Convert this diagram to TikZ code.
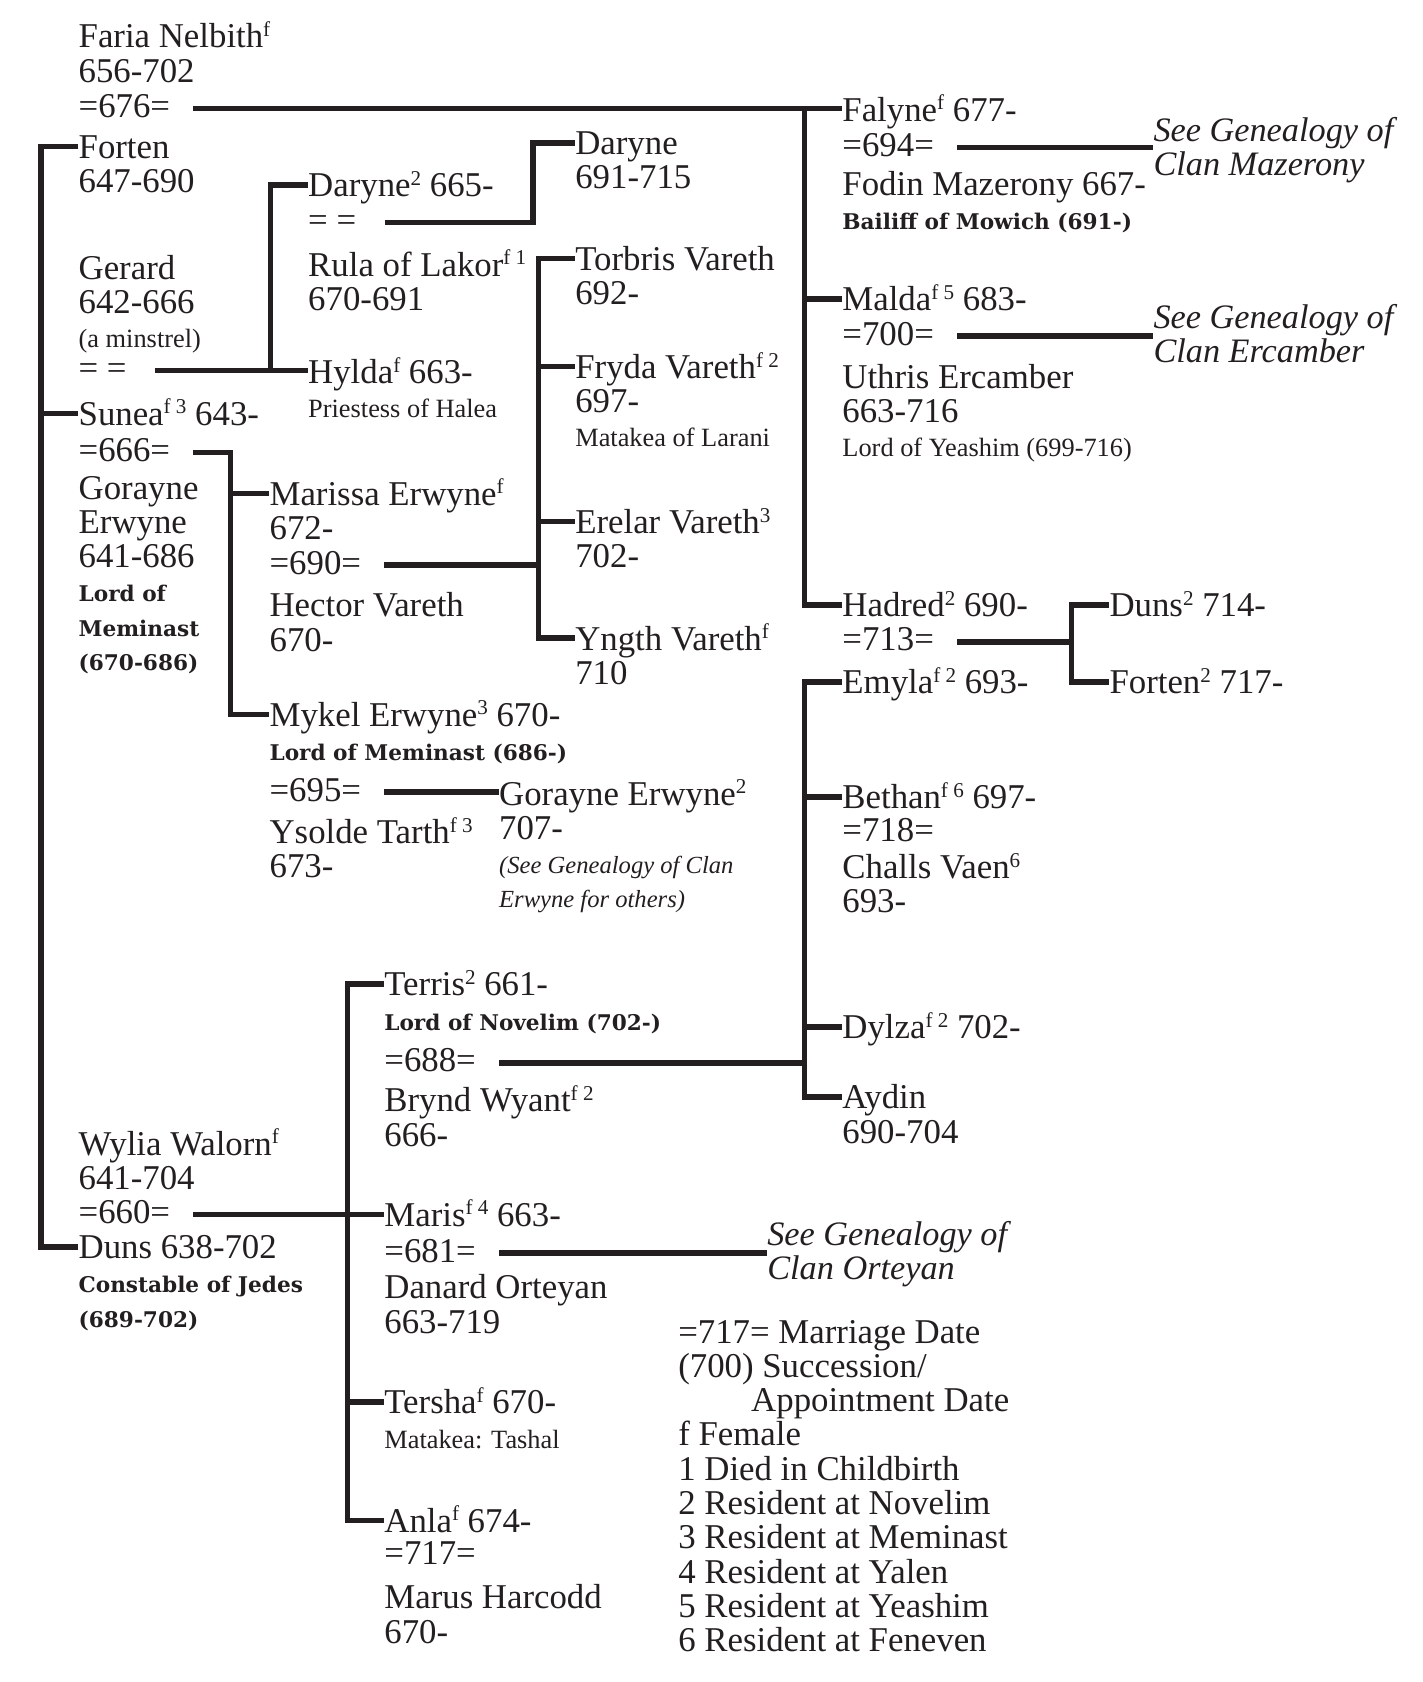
\documentclass[tikz,border=0pt]{standalone}
\usepackage{fontspec}
\setmainfont{Liberation Serif}
\newfontfamily\slabfont{DejaVu Serif}
\definecolor{ink}{RGB}{35,31,32}
\newcommand{\mainsize}{\fontsize{19.8pt}{19.5pt}\selectfont}
\newcommand{\notefont}{\fontsize{15pt}{19.5pt}\selectfont}
\newcommand{\titlefont}{\slabfont\bfseries\fontsize{12.3pt}{19.5pt}\selectfont}
\newcommand{\seefont}{\itshape\fontsize{19.5pt}{19pt}\selectfont}
\newcommand{\seesmall}{\itshape\fontsize{14pt}{19.3pt}\selectfont}
\newcommand{\supr}[1]{\raisebox{6.5pt}[0pt][0pt]{\fontsize{12pt}{12pt}\selectfont #1}}
\newcommand{\pcell}[1]{\begin{tabular}[t]{@{}l@{}}#1\end{tabular}}

\begin{document}
\begin{tikzpicture}[x=0.02145cm, y=-0.02145cm, color=ink,
    person/.style={anchor=base west, inner sep=0pt, font=\mainsize},
    wed/.style={anchor=base west, inner sep=0pt, font=\mainsize},
    see/.style={anchor=base west, inner sep=0pt, font=\seefont},
    link/.style={line width=3.2pt, line join=miter}]
  \useasboundingbox (0,0) rectangle (1326,1568);

  % Left column
  \node[person] (faria) at (73,44.5) {\pcell{Faria Nelbith\supr{f}\\656-702}};
  \node[person] (forten) at (73,147.7) {\pcell{Forten\\647-690}};
  \node[person] (gerard) at (73,260.5) {\pcell{Gerard\\642-666\\{\notefont (a minstrel)}}};
  \node[wed] (mger) at (73,354) {= =};
  \node[person] (sunea) at (73,396.3) {Sunea\supr{f 3} 643-};
  \node[person] (gorayne) at (73,465.3) {\pcell{Gorayne\\Erwyne\\641-686\\{\titlefont Lord of}\\{\titlefont Meminast}\\{\titlefont (670-686)}}};
  \node[person] (wylia) at (73,1077) {\pcell{Wylia Walorn\supr{f}\\641-704}};
  \node[person] (duns) at (73,1173.4) {\pcell{Duns 638-702\\{\titlefont Constable of Jedes}\\{\titlefont (689-702)}}};

  % Gerard and Hylda
  \node[person] (daryne2) at (287,183.4) {Daryne\supr{2} 665-};
  \node[wed] (mdar) at (287,216) {= =};
  \node[person] (rula) at (287,257.4) {\pcell{Rula of Lakor\supr{f 1}\\670-691}};
  \node[person] (hylda) at (287,357.5) {\pcell{Hylda\supr{f} 663-\\{\notefont Priestess of Halea}}};
  \node[person] (daryne3) at (536,144) {\pcell{Daryne\\691-715}};

  % Sunea and Gorayne
  \node[person] (marissa) at (251,470.9) {\pcell{Marissa Erwyne\supr{f}\\672-}};
  \node[person] (hector) at (251,575) {\pcell{Hector Vareth\\670-}};
  \node[person] (mykel) at (251,677) {\pcell{Mykel Erwyne\supr{3} 670-\\{\titlefont Lord of Meminast (686-)}}};
  \node[person] (ysolde) at (251,786.4) {\pcell{Ysolde Tarth\supr{f 3}\\673-}};
  \node[person] (gorayne2) at (465,750.6) {\pcell{Gorayne Erwyne\supr{2}\\707-\\{\seesmall (See Genealogy of Clan}\\{\seesmall Erwyne for others)}}};

  % Vareth children
  \node[person] (torbris) at (536,251.8) {\pcell{Torbris Vareth\\692-}};
  \node[person] (fryda) at (536,352.8) {\pcell{Fryda Vareth\supr{f 2}\\697-\\{\notefont Matakea of Larani}}};
  \node[person] (erelar) at (536,497.3) {\pcell{Erelar Vareth\supr{3}\\702-}};
  \node[person] (yngth) at (536,606) {\pcell{Yngth Vareth\supr{f}\\710}};

  % Right column
  \node[person] (falyne) at (785,112.8) {Falyne\supr{f} 677-};
  \node[person] (fodin) at (785,181.8) {\pcell{Fodin Mazerony 667-\\{\titlefont Bailiff of Mowich (691-)}}};
  \node[see] (seemaz) at (1075,132) {\pcell{See Genealogy of\\Clan Mazerony}};
  \node[person] (malda) at (785,289.7) {Malda\supr{f 5} 683-};
  \node[person] (uthris) at (785,362) {\pcell{Uthris Ercamber\\663-716\\{\notefont Lord of Yeashim (699-716)}}};
  \node[see] (seeerc) at (1075,306) {\pcell{See Genealogy of\\Clan Ercamber}};
  \node[person] (hadred) at (785,575.1) {Hadred\supr{2} 690-};
  \node[person] (duns2) at (1034,575) {Duns\supr{2} 714-};
  \node[person] (forten2) at (1034,646.5) {Forten\supr{2} 717-};
  \node[person] (emyla) at (785,646.5) {Emyla\supr{f 2} 693-};
  \node[person] (bethan) at (785,753.8) {Bethan\supr{f 6} 697-};
  \node[person] (challs) at (785,819) {\pcell{Challs Vaen\supr{6}\\693-}};
  \node[person] (dylza) at (785,968.1) {Dylza\supr{f 2} 702-};
  \node[person] (aydin) at (785,1033.7) {\pcell{Aydin\\690-704}};

  % Wylia and Duns
  \node[person] (terris) at (358,928.4) {\pcell{Terris\supr{2} 661-\\{\titlefont Lord of Novelim (702-)}}};
  \node[person] (brynd) at (358,1036.6) {\pcell{Brynd Wyant\supr{f 2}\\666-}};
  \node[person] (maris) at (358,1143.2) {Maris\supr{f 4} 663-};
  \node[person] (danard) at (358,1210.7) {\pcell{Danard Orteyan\\663-719}};
  \node[see] (seeort) at (715,1161) {\pcell{See Genealogy of\\Clan Orteyan}};
  \node[person] (tersha) at (358,1318) {\pcell{Tersha\supr{f} 670-\\{\notefont Matakea: Tashal}}};
  \node[person] (anla) at (358,1428.3) {Anla\supr{f} 674-};
  \node[person] (marus) at (358,1499.8) {\pcell{Marus Harcodd\\670-}};

  % Key
  \node[person, font=\fontsize{19.8pt}{19.2pt}\selectfont] (legend) at (632,1252.3) {\pcell{=717= Marriage Date\\(700) Succession/\\\hspace*{41.5pt}Appointment Date\\f Female\\1 Died in Childbirth\\2 Resident at Novelim\\3 Resident at Meminast\\4 Resident at Yalen\\5 Resident at Yeashim\\6 Resident at Feneven}};

  % Marriage dates
  \foreach \d/\x/\y in {676/73/109.7, 666/73/430.5, 660/73/1140.7, 690/251/535.2, 695/251/747,
      694/785/146, 700/785/321.7, 713/785/606.8, 718/785/784.9, 688/358/999.3, 681/358/1176.5, 717/358/1458} {
    \node[wed] (m\d) at (\x,\y) {=\d=};
    \coordinate (s\d) at ([xshift=13pt,yshift=5.2pt]m\d.base east);
  }
  \coordinate (sger) at ([xshift=16pt,yshift=5.2pt]mger.base east);
  \coordinate (sdar) at ([xshift=16pt,yshift=5.2pt]mdar.base east);

  % Junctions
  \coordinate (jL) at (38,0);
  \coordinate (jD) at (252,0);
  \coordinate (jM) at (215,0);
  \coordinate (jDar) at (497,0);
  \coordinate (jV) at (502,0);
  \coordinate (jT) at (324,0);
  \coordinate (jFal) at (750,0);
  \coordinate (jTer) at (750,0);
  \coordinate (jH) at (999,0);

  \foreach \n in {forten,sunea,duns,daryne2,daryne3,marissa,mykel,torbris,fryda,erelar,yngth,
      malda,hadred,duns2,forten2,emyla,bethan,dylza,aydin,terris,tersha,anla}
    \coordinate (\n-t) at ([yshift=6.7pt]\n.base west);

  % Lines
  \draw[link] (forten-t) -- (forten-t -| jL) -- (duns-t -| jL) -- (duns-t);
  \draw[link] (sunea-t) -- (sunea-t -| jL);

  \draw[link] (s676) -- (s676 -| falyne.west);
  \draw[link] (s676 -| jFal) |- (hadred-t);
  \draw[link] (malda-t) -- (malda-t -| jFal);
  \draw[link] (s694) -- (s694 -| seemaz.west);
  \draw[link] (s700) -- (s700 -| seeerc.west);
  \draw[link] (s713) -- (s713 -| jH);
  \draw[link] (duns2-t) -- (duns2-t -| jH) -- (forten2-t -| jH) -- (forten2-t);

  \draw[link] (sger) -- (sger -| hylda.west);
  \draw[link] (daryne2-t) -- (daryne2-t -| jD) -- (sger -| jD);
  \draw[link] (sdar) -- (sdar -| jDar) -- (daryne3-t -| jDar) -- (daryne3-t);

  \draw[link] (s666) -- (s666 -| jM) -- (mykel-t -| jM) -- (mykel-t);
  \draw[link] (marissa-t) -- (marissa-t -| jM);
  \draw[link] (s690) -- (s690 -| jV);
  \draw[link] (torbris-t) -- (torbris-t -| jV) -- (yngth-t -| jV) -- (yngth-t);
  \foreach \c in {fryda,erelar}
    \draw[link] (\c-t) -- (\c-t -| jV);
  \draw[link] (s695) -- (s695 -| gorayne2.west);

  \draw[link] (s660) -- (s660 -| maris.west);
  \draw[link] (terris-t) -- (terris-t -| jT) -- (anla-t -| jT) -- (anla-t);
  \draw[link] (tersha-t) -- (tersha-t -| jT);
  \draw[link] (s681) -- (s681 -| seeort.west);
  \draw[link] (s688) -- (s688 -| jTer);
  \draw[link] (emyla-t) -- (emyla-t -| jTer) -- (aydin-t -| jTer) -- (aydin-t);
  \foreach \c in {bethan,dylza}
    \draw[link] (\c-t) -- (\c-t -| jTer);
\end{tikzpicture}
\end{document}
